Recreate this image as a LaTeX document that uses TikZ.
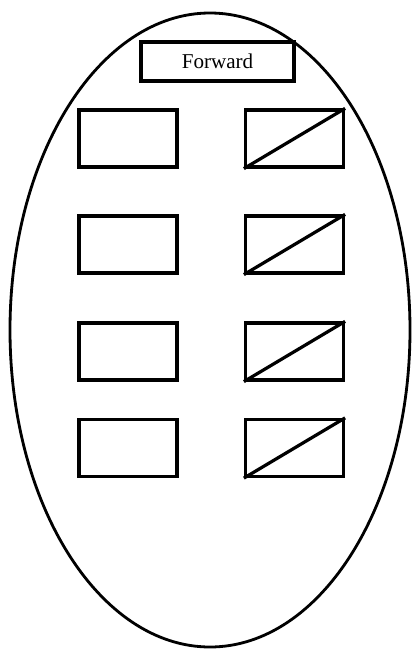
\documentclass[tikz,border=0pt]{standalone}
\usepackage{fontspec}
\setmainfont{Liberation Serif}
\usepackage{tikz}
\usetikzlibrary{shapes.geometric, positioning}

\begin{document}
\begin{tikzpicture}[line width=2.3pt,
    slot/.style={draw, rectangle, inner sep=0pt, minimum width=2.45cm, minimum height=1.425cm}]
    \useasboundingbox (0,0) rectangle (10.3,-16.25);
    \node[draw, ellipse, line width=2pt, inner sep=0pt, minimum width=10cm, minimum height=15.85cm] (shell) at (5.25,-8.25) {};
    \node[draw, rectangle, inner sep=0pt, minimum width=3.825cm, minimum height=0.975cm, font=\fontsize{15}{18}\selectfont] (fwd) at (5.4375,-1.5375) {Forward};
    \node[slot] (l1) at (3.2,-3.4625) {};
    \node[slot] (l2) at (3.2,-6.1125) {};
    \node[slot] (l3) at (3.2,-8.7875) {};
    \node[slot] (l4) at (3.2,-11.2) {};
    \node[slot] (r1) at (7.3625,-3.4625) {};
    \node[slot] (r2) at (7.3625,-6.1125) {};
    \node[slot] (r3) at (7.3625,-8.7875) {};
    \node[slot] (r4) at (7.3625,-11.2) {};
    \draw (r1.south west) -- (r1.north east);
    \draw (r2.south west) -- (r2.north east);
    \draw (r3.south west) -- (r3.north east);
    \draw (r4.south west) -- (r4.north east);
\end{tikzpicture}
\end{document}
